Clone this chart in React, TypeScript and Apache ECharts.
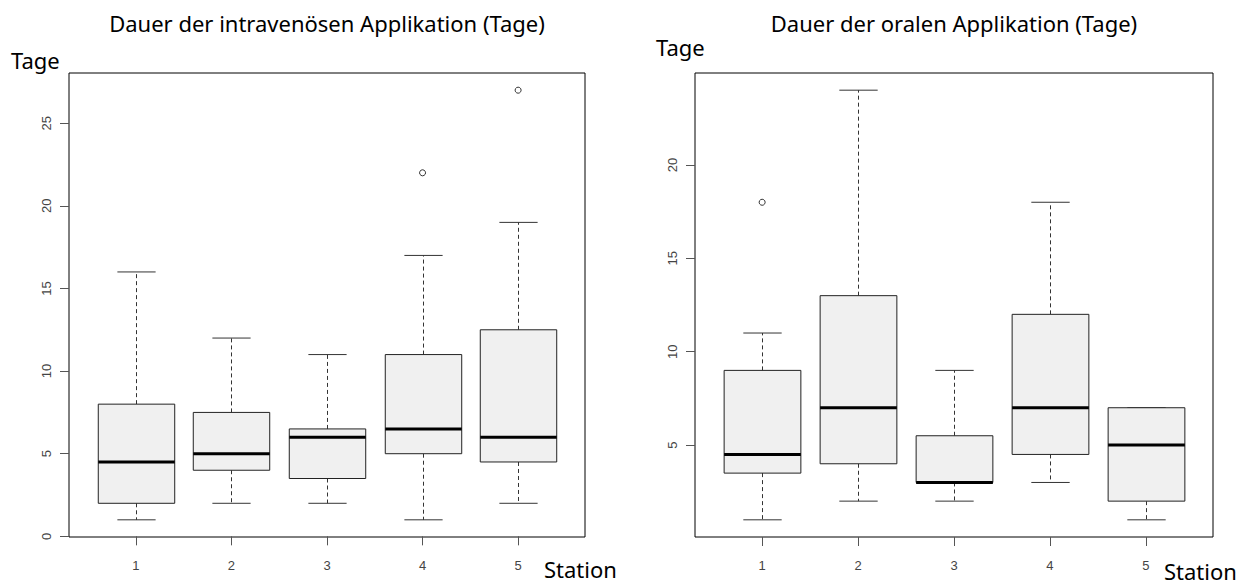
import React, { useEffect, useRef } from "react";
import * as echarts from "echarts";

// Stations (x categories)
const stations = [1, 2, 3, 4, 5];
const stationLabels = ["1", "2", "3", "4", "5"];

// Dauer der intravenösen Applikation (Tage)
const ivMin = [1, 2, 2, 1, 2];
const ivQ1 = [2, 4, 3.5, 5, 4.5];
const ivMedian = [4.5, 5, 6, 6.5, 6];
const ivQ3 = [8, 7.5, 6.5, 11, 12.5];
const ivMax = [16, 12, 11, 17, 19];
const ivOutliers = [
  [4, 22],
  [5, 27],
];
const ivTicks = [0, 5, 10, 15, 20, 25];

// Dauer der oralen Applikation (Tage)
const oralMin = [1, 2, 2, 3, 1];
const oralQ1 = [3.5, 4, 3, 4.5, 2];
const oralMedian = [4.5, 7, 3, 7, 5];
const oralQ3 = [9, 13, 5.5, 12, 7];
const oralMax = [11, 24, 9, 18, 7];
const oralOutliers = [[1, 18]];
const oralTicks = [5, 10, 15, 20];

const titleIv = "Dauer der intravenösen Applikation (Tage)";
const titleOral = "Dauer der oralen Applikation (Tage)";
const yName = "Tage";
const xName = "Station";

function padRange(vals: number[]): [number, number] {
  const lo = Math.min(...vals);
  const hi = Math.max(...vals);
  const d = (hi - lo) * 0.04;
  return [lo - d, hi + d];
}

function boxData(mn: number[], q1: number[], md: number[], q3: number[], mx: number[]) {
  return stations.map((s, i) => [s, mn[i], q1[i], md[i], q3[i], mx[i]]);
}

const renderBox = (_params: any, api: any) => {
  const x = api.value(0);
  const vals = [api.value(1), api.value(2), api.value(3), api.value(4), api.value(5)];
  const pts = vals.map((v: number) => api.coord([x, v]));
  const boxW = api.size([0.8, 0])[0];
  const stW = boxW / 2;
  const cx = Math.round(pts[0][0]) + 0.5;
  const [pLo, pQ1, pMed, pQ3, pHi] = pts;
  const dash = { stroke: "#333", lineWidth: 1, lineDash: [4, 3] };
  const solid = { stroke: "#333", lineWidth: 1 };
  return {
    type: "group",
    children: [
      { type: "line", shape: { x1: cx, y1: pQ3[1], x2: cx, y2: pHi[1] }, style: dash },
      { type: "line", shape: { x1: cx, y1: pQ1[1], x2: cx, y2: pLo[1] }, style: dash },
      { type: "line", shape: { x1: cx - stW / 2, y1: pHi[1], x2: cx + stW / 2, y2: pHi[1] }, style: solid },
      { type: "line", shape: { x1: cx - stW / 2, y1: pLo[1], x2: cx + stW / 2, y2: pLo[1] }, style: solid },
      {
        type: "rect",
        shape: { x: cx - boxW / 2, y: pQ3[1], width: boxW, height: pQ1[1] - pQ3[1] },
        style: { fill: "#f0f0f0", stroke: "#222", lineWidth: 1 },
      },
      { type: "line", shape: { x1: cx - boxW / 2, y1: pMed[1], x2: cx + boxW / 2, y2: pMed[1] }, style: { stroke: "#000", lineWidth: 3 } },
    ],
  };
};

export default function App() {
  const ref = useRef<HTMLDivElement>(null);
  useEffect(() => {
    if (!ref.current) return;
    const chart = echarts.init(ref.current, undefined, { renderer: "svg" });
    const ivRange = padRange([...ivMin, ...ivMax, ...ivOutliers.map((o) => o[1])]);
    const oralRange = padRange([...oralMin, ...oralMax, ...oralOutliers.map((o) => o[1])]);
    const xRange = [0.3, 5.7];
    const tickFont = { fontFamily: "Liberation Sans, Arial, sans-serif", fontSize: 13, color: "#444" };
    const textFont = "Noto Sans, sans-serif";

    const mkX = (gi: number) => ({
      type: "value",
      gridIndex: gi,
      min: xRange[0],
      max: xRange[1],
      axisLine: { show: false },
      splitLine: { show: false },
      axisTick: { show: true, length: 9, customValues: stations, lineStyle: { color: "#555" } },
      axisLabel: {
        show: true,
        customValues: stations,
        margin: 22,
        formatter: (v: number) => stationLabels[stations.indexOf(v)] ?? "",
        ...tickFont,
      },
    });
    const mkY = (gi: number, range: [number, number], ticks: number[]) => ({
      type: "value",
      gridIndex: gi,
      min: range[0],
      max: range[1],
      axisLine: { show: false },
      splitLine: { show: false },
      axisTick: { show: true, length: 9, customValues: ticks, lineStyle: { color: "#555" } },
      axisLabel: { show: true, customValues: ticks, rotate: 90, margin: 16, ...tickFont },
    });

    chart.setOption({
      animation: false,
      grid: [
        { left: 69, top: 73, width: 516, height: 464, show: true, borderColor: "#000", borderWidth: 1, backgroundColor: "transparent" },
        { left: 695, top: 73, width: 518, height: 464, show: true, borderColor: "#000", borderWidth: 1, backgroundColor: "transparent" },
      ],
      xAxis: [mkX(0), mkX(1)],
      yAxis: [mkY(0, ivRange, ivTicks), mkY(1, oralRange, oralTicks)],
      series: [
        {
          type: "custom",
          xAxisIndex: 0,
          yAxisIndex: 0,
          renderItem: renderBox,
          encode: { x: 0, y: [1, 2, 3, 4, 5] },
          data: boxData(ivMin, ivQ1, ivMedian, ivQ3, ivMax),
        },
        {
          type: "scatter",
          xAxisIndex: 0,
          yAxisIndex: 0,
          symbol: "circle",
          symbolSize: 6,
          itemStyle: { color: "#fff", borderColor: "#000", borderWidth: 1 },
          data: ivOutliers,
        },
        {
          type: "custom",
          xAxisIndex: 1,
          yAxisIndex: 1,
          renderItem: renderBox,
          encode: { x: 0, y: [1, 2, 3, 4, 5] },
          data: boxData(oralMin, oralQ1, oralMedian, oralQ3, oralMax),
        },
        {
          type: "scatter",
          xAxisIndex: 1,
          yAxisIndex: 1,
          symbol: "circle",
          symbolSize: 6,
          itemStyle: { color: "#fff", borderColor: "#000", borderWidth: 1 },
          data: oralOutliers,
        },
      ],
      graphic: [
        { type: "text", x: 327, y: 23, style: { text: titleIv, font: `22px ${textFont}`, fill: "#000", align: "center", verticalAlign: "middle" } },
        { type: "text", x: 954, y: 23, style: { text: titleOral, font: `22px ${textFont}`, fill: "#000", align: "center", verticalAlign: "middle" } },
        { type: "text", x: 11, y: 60, style: { text: yName, font: `22px ${textFont}`, fill: "#000", align: "left", verticalAlign: "middle" } },
        { type: "text", x: 656, y: 47, style: { text: yName, font: `22px ${textFont}`, fill: "#000", align: "left", verticalAlign: "middle" } },
        { type: "text", x: 544, y: 569, style: { text: xName, font: `22px ${textFont}`, fill: "#000", align: "left", verticalAlign: "middle" } },
        { type: "text", x: 1164, y: 571, style: { text: xName, font: `22px ${textFont}`, fill: "#000", align: "left", verticalAlign: "middle" } },
      ],
    });
    return () => chart.dispose();
  }, []);
  return <div ref={ref} style={{ position: "fixed", left: 0, top: 0, width: 1253, height: 586, background: "#fff" }} />;
}
